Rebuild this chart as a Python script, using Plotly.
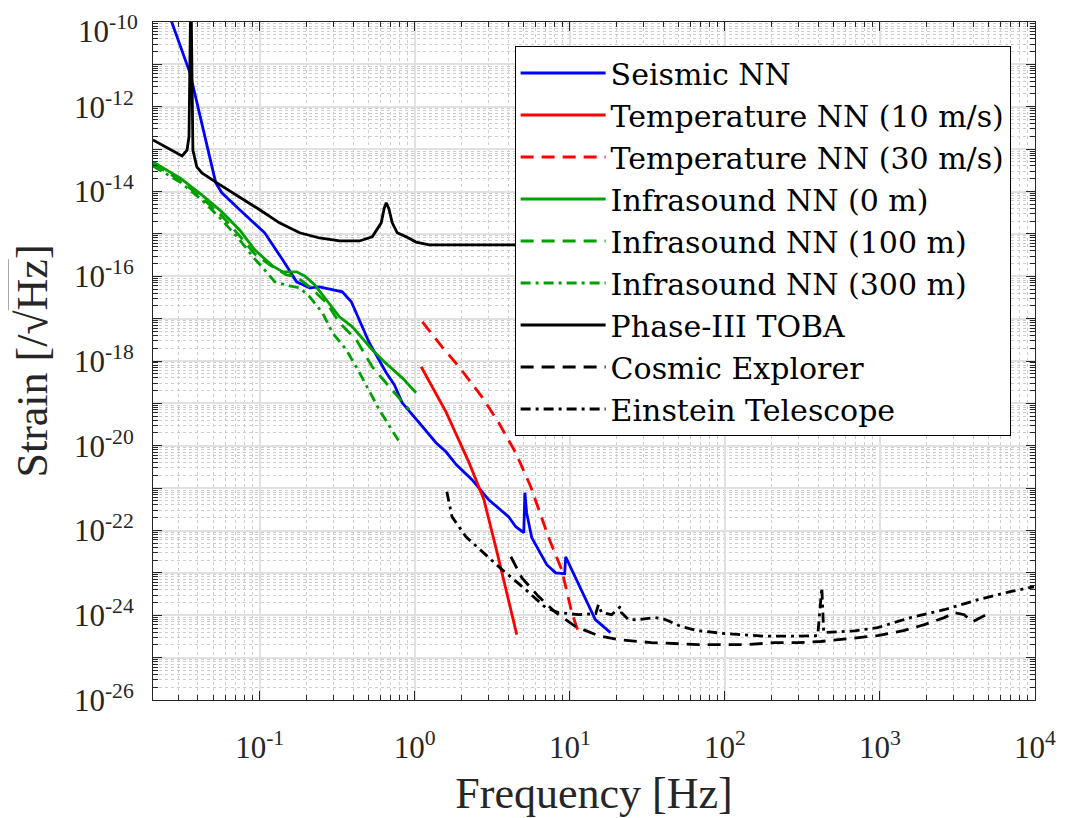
import plotly.graph_objects as go

# ---------------- data (frequency [Hz], strain [1/sqrt(Hz)]) ----------------
seis_f = [0.0266, 0.0355, 0.0521, 0.057, 0.0743, 0.0957, 0.1077, 0.1406, 0.173, 0.21, 0.243,
          0.341, 0.39, 0.509, 0.655, 0.738, 0.83, 1.067, 1.37, 1.59, 1.85, 2.34, 3.0, 4.04,
          4.48, 5.05, 5.13, 5.27, 5.68, 7.1, 8.1, 9.27, 9.4, 14.6, 18.3]
seis_s = [1.2e-10, 6.3e-12, 1.6e-14, 9.3e-15, 3.7e-15, 1.63e-15, 1.06e-15, 2.44e-16, 7.4e-17,
          5.3e-17, 5.6e-17, 4.3e-17, 2.5e-17, 2.7e-18, 5.3e-19, 2.75e-19, 1.03e-19, 3.5e-20,
          1.18e-20, 7.2e-21, 3.6e-21, 1.58e-21, 5.3e-22, 2.1e-22, 1.23e-22, 8.9e-23, 7.8e-22,
          2.6e-22, 6.8e-23, 1.56e-23, 1.0e-23, 9.6e-24, 2.4e-23, 7.9e-25, 3.9e-25]

temp10_f = [1.1, 1.59, 2.24, 2.79, 3.34, 3.65, 4.55]
temp10_s = [7.3e-19, 6.3e-20, 4.0e-21, 5.4e-22, 3.9e-23, 1.0e-23, 3.5e-25]

temp30_f = [1.12, 1.5, 1.93, 2.71, 3.48, 4.48, 5.6, 7.3, 8.86, 10.3, 11.7]
temp30_s = [8.4e-18, 2.16e-18, 7.3e-19, 1.43e-19, 3.5e-20, 6.8e-21, 1.08e-21, 6.8e-23,
            1.2e-23, 1.15e-24, 2.95e-25]

infra0_f = [0.0205, 0.0306, 0.0431, 0.057, 0.0743, 0.0929, 0.121, 0.141, 0.173, 0.195, 0.226,
            0.27, 0.327, 0.396, 0.532, 0.636, 0.83, 1.02]
infra0_s = [5.0e-14, 2.09e-14, 7.9e-15, 3.3e-15, 1.24e-15, 4.2e-16, 1.76e-16, 1.27e-16,
            1.27e-16, 1.02e-16, 6.3e-17, 2.77e-17, 1.10e-17, 6.4e-18, 1.84e-18, 9.6e-19,
            4.0e-19, 1.78e-19]

infra100_f = [0.0205, 0.0306, 0.0431, 0.057, 0.0743, 0.0929, 0.116, 0.149, 0.173, 0.21, 0.27,
              0.327, 0.42, 0.532, 0.685, 0.921]
infra100_s = [4.5e-14, 1.88e-14, 6.7e-15, 2.66e-15, 8.97e-16, 3.37e-16, 1.86e-16, 1.08e-16,
              9.7e-17, 5.6e-17, 2.36e-17, 7.96e-18, 3.16e-18, 7.3e-19, 2.47e-19, 7.1e-20]

infra300_f = [0.0205, 0.0306, 0.0431, 0.057, 0.0743, 0.0929, 0.1077, 0.125, 0.156, 0.181, 0.21,
              0.254, 0.295, 0.362, 0.44, 0.59, 0.794]
infra300_s = [4.0e-14, 1.68e-14, 6.0e-15, 2.14e-15, 7.2e-16, 2.57e-16, 1.42e-16, 7.4e-17,
              5.9e-17, 5.3e-17, 3.27e-17, 1.37e-17, 4.6e-18, 1.84e-18, 5.3e-19, 7.1e-20, 1.24e-20]

toba_f = [0.0205, 0.0257, 0.0316, 0.034, 0.035, 0.0355, 0.036, 0.0365, 0.0371, 0.0393, 0.0424,
          0.053, 0.0743, 0.1, 0.134, 0.181, 0.243, 0.327, 0.44, 0.532, 0.608, 0.635, 0.655, 0.68,
          0.716, 0.771, 0.881, 1.02, 1.24, 10.0]
toba_s = [1.65e-13, 1.07e-13, 6.9e-14, 9.5e-14, 1.95e-13, 1.26e-11, 1e-9, 1.26e-11, 9.5e-14,
          3.8e-14, 2.74e-14, 1.6e-14, 7.5e-15, 3.7e-15, 1.82e-15, 1.06e-15, 8.0e-16, 6.8e-16,
          6.8e-16, 8.5e-16, 1.82e-15, 4.0e-15, 5.4e-15, 4.0e-15, 1.82e-15, 1.06e-15, 8.5e-16,
          6.4e-16, 5.5e-16, 5.5e-16]

ce_f = [4.17, 4.49, 4.9, 6.3, 8.1, 10.9, 15.3, 20.6, 33.6, 67.3, 141, 210, 295, 415, 647, 966,
        1440, 1935, 2600, 3015, 3500, 3940, 4770]
ce_s = [2.4e-23, 1.4e-23, 7.7e-24, 2.75e-24, 1.16e-24, 5.4e-25, 3.3e-25, 2.66e-25, 2.26e-25,
        2.03e-25, 2.03e-25, 2.26e-25, 2.26e-25, 2.4e-25, 2.8e-25, 3.3e-25, 4.4e-25, 6.0e-25,
        8.8e-25, 1.15e-24, 1.03e-24, 7.0e-25, 1.0e-24]

et_f = [1.61, 1.74, 2.14, 3.48, 5.2, 6.99, 8.47, 11.4, 14.7, 15.3, 16.0, 18.6, 21.2, 21.5, 23.9,
        27.7, 35.6, 41.3, 52.3, 67.3, 100, 181, 295, 397, 422, 434, 687, 966, 1573, 2600, 4240,
        6900, 9860]
et_s = [8.2e-22, 2.1e-22, 7.1e-23, 1.4e-23, 4.0e-24, 1.51e-24, 1.16e-24, 1.03e-24, 1.09e-24,
        1.78e-24, 1.16e-24, 1.03e-24, 1.6e-24, 1.16e-24, 7.9e-25, 7.9e-25, 8.8e-25, 7.9e-25,
        5.4e-25, 4.3e-25, 3.7e-25, 3.2e-25, 3.2e-25, 3.3e-25, 4.5e-24, 3.9e-25, 4.3e-25,
        5.1e-25, 8.8e-25, 1.35e-24, 2.3e-24, 3.6e-24, 4.7e-24]

x_tick_vals = [0.1, 1, 10, 100, 1000, 10000]
x_tick_text = ["10<sup>-1</sup>", "10<sup>0</sup>", "10<sup>1</sup>", "10<sup>2</sup>",
               "10<sup>3</sup>", "10<sup>4</sup>"]
y_exponents = list(range(-26, -9))
y_tick_vals = [10.0 ** e for e in y_exponents]
# the top label (10^-10) is drawn as an annotation so it is not clipped at the page edge
y_top_label = "10<sup>-10</sup>"
y_tick_text = [("10<sup>%d</sup>" % e) if (e % 2 == 0 and e != -10) else "" for e in y_exponents]

# ---------------- styles ----------------
BLUE, RED, GREEN, BLACK = "#0000ff", "#ff0000", "#00a000", "#000000"
DASH = "13px,8px"
DASHDOT = "10px,5px,3px,5px"
LW = 2.8

series = [
    ("Seismic NN", seis_f, seis_s, BLUE, "solid"),
    ("Temperature NN (10 m/s)", temp10_f, temp10_s, RED, "solid"),
    ("Temperature NN (30 m/s)", temp30_f, temp30_s, RED, DASH),
    ("Infrasound NN (0 m)", infra0_f, infra0_s, GREEN, "solid"),
    ("Infrasound NN (100 m)", infra100_f, infra100_s, GREEN, DASH),
    ("Infrasound NN (300 m)", infra300_f, infra300_s, GREEN, DASHDOT),
    ("Phase-III TOBA", toba_f, toba_s, BLACK, "solid"),
    ("Cosmic Explorer", ce_f, ce_s, BLACK, DASH),
    ("Einstein Telescope", et_f, et_s, BLACK, DASHDOT),
]

fig = go.Figure()
for name, f, s, c, d in series:
    fig.add_trace(go.Scatter(x=f, y=s, mode="lines", name=name,
                             line=dict(color=c, width=LW, dash=d)))

TICKFONT = dict(family="Liberation Serif", size=31, color="#262626")
TITLEFONT = dict(family="Liberation Serif", size=44, color="#262626")
AXCOL = "#262626"
common = dict(
    type="log", showline=True, linecolor=AXCOL, linewidth=1, mirror="ticks",
    ticks="inside", ticklen=9, tickcolor=AXCOL, tickwidth=1,
    showgrid=True, gridcolor="#e1e1e1", gridwidth=1.5,
    zeroline=False, tickfont=TICKFONT,
    minor=dict(dtick="D1", ticks="inside", ticklen=5, tickcolor=AXCOL,
               showgrid=True, gridcolor="#cdcdcd", griddash="dot", gridwidth=1),
)

fig.update_xaxes(range=[-1.688, 4.0], tickmode="array", tickvals=x_tick_vals,
                 ticktext=x_tick_text, ticklabelstandoff=20,
                 title=dict(text="Frequency [Hz]", standoff=13, font=TITLEFONT),
                 **common)
fig.update_yaxes(range=[-26, -10], tickmode="array", tickvals=y_tick_vals,
                 ticktext=y_tick_text, ticklabelstandoff=12,
                 title=dict(text="Strain [/√<span style='text-decoration:overline'>Hz</span>]",
                            standoff=17, font=TITLEFONT),
                 **common)

fig.add_annotation(text=y_top_label, xref="paper", yref="paper", x=0, y=1,
                   xanchor="right", yanchor="top", xshift=-13, yshift=14,
                   showarrow=False, font=TICKFONT)

# page body has an 8px margin: figure sized so the plot area lands at
# x 153..1035, y 22..700 of the window
fig.update_layout(
    width=1062, height=810,
    margin=dict(l=145, r=35, t=14, b=118, autoexpand=False),
    paper_bgcolor="white", plot_bgcolor="white",
    showlegend=True,
    legend=dict(x=0.41, y=0.9646, xanchor="left", yanchor="top",
                bgcolor="white", bordercolor="#000000", borderwidth=1,
                font=dict(family="DejaVu Serif", size=30, color="#000000"),
                itemwidth=85, tracegroupgap=0),
)

fig.write_html("out.html")
